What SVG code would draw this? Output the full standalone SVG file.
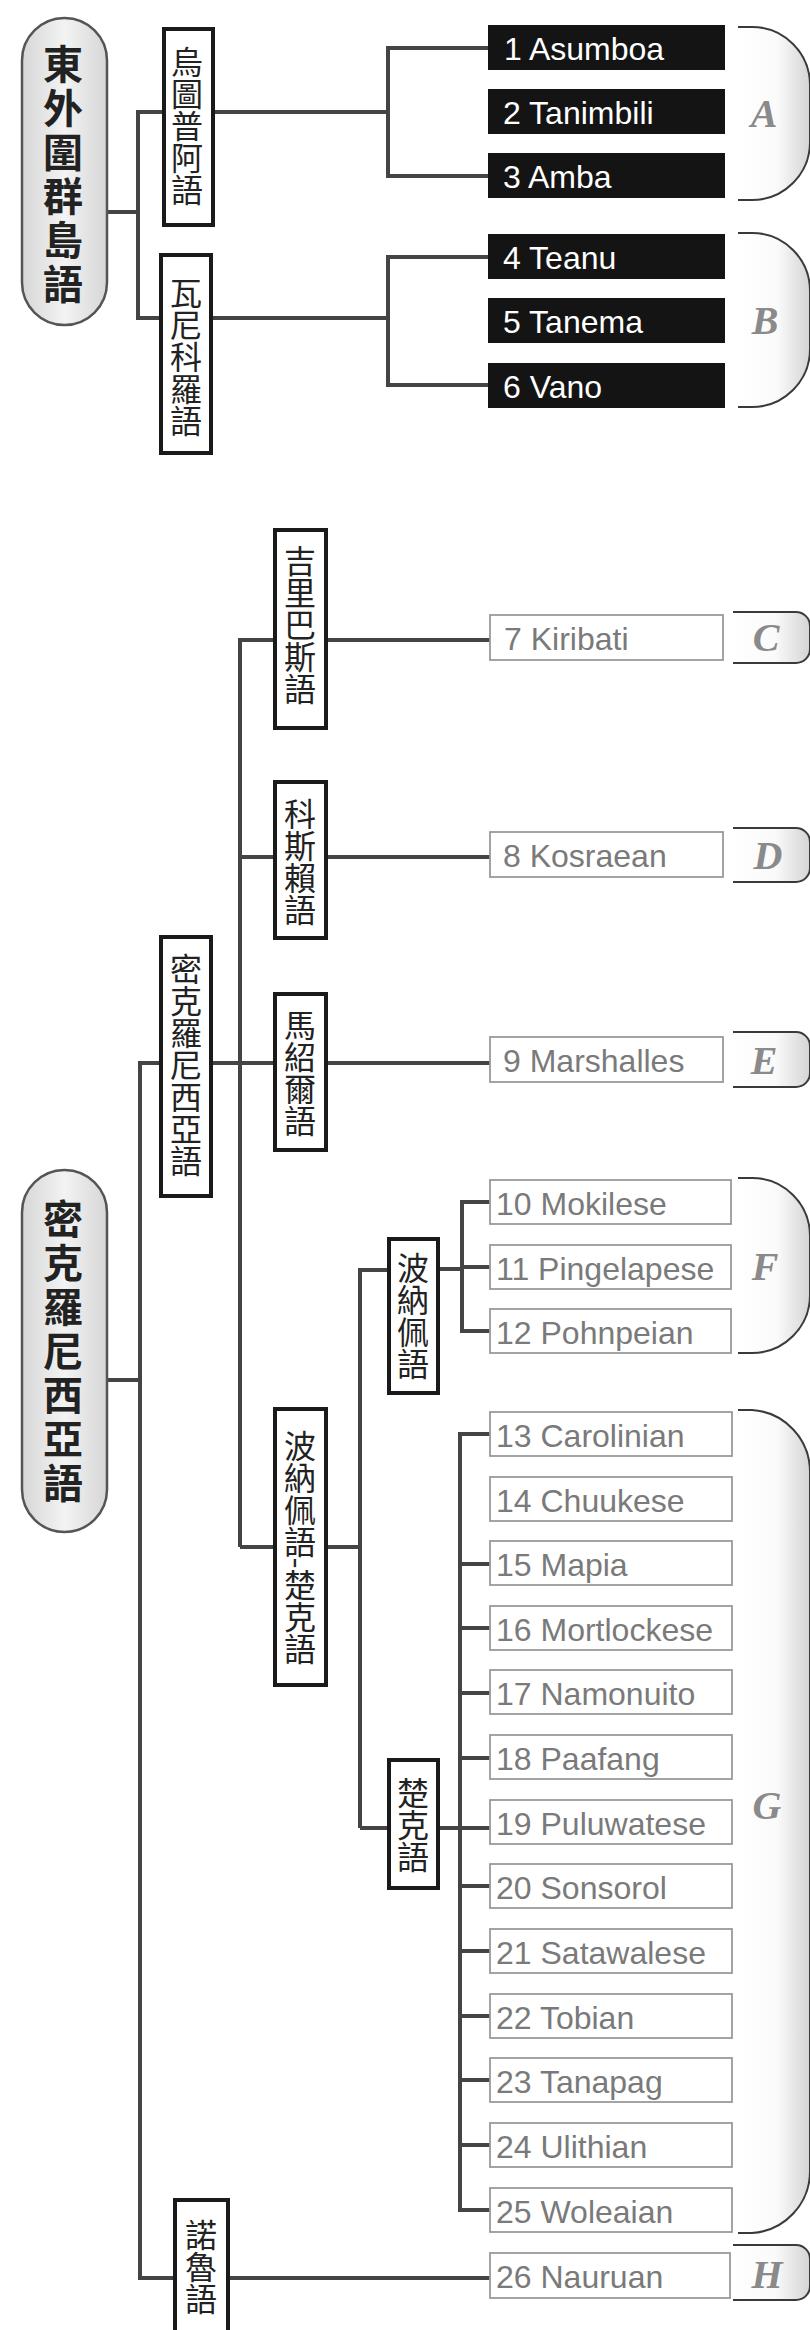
<svg xmlns="http://www.w3.org/2000/svg" width="810" height="2330" viewBox="0 0 810 2330">
<defs>
<linearGradient id="pg" x1="0" y1="0" x2="1" y2="0">
<stop offset="0" stop-color="#d6d6d6"/><stop offset="0.5" stop-color="#f3f3f3"/><stop offset="1" stop-color="#d6d6d6"/>
</linearGradient>
<linearGradient id="bg" x1="0" y1="0" x2="1" y2="0">
<stop offset="0" stop-color="#ffffff"/><stop offset="0.55" stop-color="#fafafa"/><stop offset="1" stop-color="#d4d4d4"/>
</linearGradient>
<style>
.conn{stroke:#444;stroke-width:4;fill:none;stroke-linecap:butt;stroke-linejoin:miter}
.bx{fill:#fff;stroke:#1a1a1a;stroke-width:4}
.vt{font-family:"Noto Sans CJK TC","Noto Sans CJK SC",sans-serif;font-size:32px;fill:#222;writing-mode:vertical-rl;text-anchor:middle}
.pill{fill:url(#pg);stroke:#555;stroke-width:2.5}
.pt{font-family:"Noto Sans CJK TC","Noto Sans CJK SC",sans-serif;font-size:40px;font-weight:bold;fill:#222;writing-mode:vertical-rl;text-anchor:middle;letter-spacing:4px}
.blk{fill:#141414}
.bt{font-family:"Liberation Sans",Arial,sans-serif;font-size:32px;fill:#fff}
.gb{fill:#fff;stroke:#9a9a9a;stroke-width:1.8}
.gt{font-family:"Liberation Sans",Arial,sans-serif;font-size:32px;fill:#7a7a7a}
.br{fill:url(#bg);stroke:#3a3a3a;stroke-width:2}
.bl{font-family:"Liberation Serif","Times New Roman",serif;font-style:italic;font-weight:bold;font-size:40px;fill:#8a8a8a;text-anchor:middle}
</style>
</defs>
<rect width="810" height="2330" fill="#fff"/>

<g id="connectors">
<path class="conn" d="M107,212 H138"/>
<path class="conn" d="M162,112 H138 V318 H159"/>
<path class="conn" d="M215,112 H388"/>
<path class="conn" d="M488,48 H388 V176 H488"/>
<path class="conn" d="M213,318 H388"/>
<path class="conn" d="M488,257 H388 V385 H488"/>
<path class="conn" d="M240,1547 V640 H273"/>
<path class="conn" d="M328,640 H490"/>
<path class="conn" d="M240,857 H273"/>
<path class="conn" d="M328,857 H490"/>
<path class="conn" d="M213,1063 H273"/>
<path class="conn" d="M328,1063 H490"/>
<path class="conn" d="M240,1547 H273"/>
<path class="conn" d="M328,1547 H360"/>
<path class="conn" d="M360,1828 V1270 H387"/>
<path class="conn" d="M440,1269 H462"/>
<path class="conn" d="M490,1202 H462 V1331 H490"/>
<path class="conn" d="M462,1267 H490"/>
<path class="conn" d="M360,1828 H387"/>
<path class="conn" d="M440,1828 H490"/>
<path class="conn" d="M490,1434 H460 V2210 H490"/>
<path class="conn" d="M460,1564 H490 M460,1628 H490 M460,1693 H490 M460,1758 H490 M460,1886 H490 M460,1951 H490 M460,2016 H490 M460,2080 H490 M460,2145 H490"/>
<path class="conn" d="M159,1063 H140 V2278 H173"/>
<path class="conn" d="M107,1380 H140"/>
<path class="conn" d="M230,2278 H490"/>
</g>

<g id="n-east-outer">
<rect class="pill" x="22" y="18" width="85" height="307" rx="42.5"/>
<text class="pt" x="63" y="176">東外圍群島語</text>
</g>
<g id="n-utupua"><rect class="bx" x="164" y="29" width="49" height="196"/><text class="vt" x="187" y="126">烏圖普阿語</text></g>
<g id="n-vanikoro"><rect class="bx" x="161" y="255" width="50" height="198"/><text class="vt" x="186" y="357">瓦尼科羅語</text></g>

<g id="n1"><rect class="blk" x="488" y="25" width="237" height="45"/><text class="bt" x="504" y="60">1 Asumboa</text></g>
<g id="n2"><rect class="blk" x="488" y="89" width="237" height="45"/><text class="bt" x="503" y="124">2 Tanimbili</text></g>
<g id="n3"><rect class="blk" x="488" y="153" width="237" height="45"/><text class="bt" x="503" y="188">3 Amba</text></g>
<g id="n4"><rect class="blk" x="488" y="234" width="237" height="45"/><text class="bt" x="503" y="269">4 Teanu</text></g>
<g id="n5"><rect class="blk" x="488" y="298" width="237" height="45"/><text class="bt" x="503" y="333">5 Tanema</text></g>
<g id="n6"><rect class="blk" x="488" y="363" width="237" height="45"/><text class="bt" x="503" y="398">6 Vano</text></g>

<g id="gA"><path class="br" d="M738,27 H752 A58,58 0 0 1 810,85 V142 A58,58 0 0 1 752,200 H738"/><text class="bl" x="764" y="127">A</text></g>
<g id="gB"><path class="br" d="M738,233 H752 A58,58 0 0 1 810,291 V349 A58,58 0 0 1 752,407 H738"/><text class="bl" x="765" y="334">B</text></g>

<g id="n-kiribati-lang"><rect class="bx" x="275" y="530" width="51" height="198"/><text class="vt" x="300" y="625">吉里巴斯語</text></g>
<g id="n-kosrae-lang"><rect class="bx" x="275" y="782" width="51" height="156"/><text class="vt" x="300" y="862">科斯賴語</text></g>
<g id="n-marshall-lang"><rect class="bx" x="275" y="994" width="51" height="156"/><text class="vt" x="300" y="1073">馬紹爾語</text></g>
<g id="n-micronesian-inner"><rect class="bx" x="161" y="937" width="50" height="259"/><text class="vt" x="186" y="1065">密克羅尼西亞語</text></g>
<g id="n-micronesian"><rect class="pill" x="22" y="1170" width="85" height="362" rx="42.5"/><text class="pt" x="63" y="1353">密克羅尼西亞語</text></g>
<g id="n-pohnpeic-chuukic"><rect class="bx" x="275" y="1409" width="51" height="276"/><text class="vt" x="300" y="1547">波納佩語-楚克語</text></g>
<g id="n-pohnpeic"><rect class="bx" x="389" y="1239" width="49" height="154"/><text class="vt" x="413" y="1316">波納佩語</text></g>
<g id="n-chuukic"><rect class="bx" x="389" y="1760" width="49" height="128"/><text class="vt" x="413" y="1825">楚克語</text></g>
<g id="n-nauruan-lang"><rect class="bx" x="175" y="2200" width="53" height="140"/><text class="vt" x="201" y="2267">諾魯語</text></g>

<g id="n7"><rect class="gb" x="490" y="615" width="233" height="45"/><text class="gt" x="504" y="650">7 Kiribati</text></g>
<g id="n8"><rect class="gb" x="490" y="832" width="233" height="45"/><text class="gt" x="503" y="867">8 Kosraean</text></g>
<g id="n9"><rect class="gb" x="490" y="1037" width="233" height="45"/><text class="gt" x="503" y="1072">9 Marshalles</text></g>
<g id="gC"><path class="br" d="M733,612 H796 A14,14 0 0 1 810,626 V649 A14,14 0 0 1 796,663 H733"/><text class="bl" x="766" y="651">C</text></g>
<g id="gD"><path class="br" d="M733,828 H796 A14,14 0 0 1 810,842 V868 A14,14 0 0 1 796,882 H733"/><text class="bl" x="768" y="869">D</text></g>
<g id="gE"><path class="br" d="M733,1032 H796 A14,14 0 0 1 810,1046 V1073 A14,14 0 0 1 796,1087 H733"/><text class="bl" x="764" y="1074">E</text></g>

<g id="n10"><rect class="gb" x="490" y="1180" width="241" height="44"/><text class="gt" x="496" y="1215">10 Mokilese</text></g>
<g id="n11"><rect class="gb" x="490" y="1245" width="241" height="44"/><text class="gt" x="496" y="1280">11 Pingelapese</text></g>
<g id="n12"><rect class="gb" x="490" y="1309" width="241" height="44"/><text class="gt" x="496" y="1344">12 Pohnpeian</text></g>
<g id="gF"><path class="br" d="M738,1178 H752 A58,58 0 0 1 810,1236 V1295 A58,58 0 0 1 752,1353 H738"/><text class="bl" x="765" y="1280">F</text></g>

<g id="n13"><rect class="gb" x="490" y="1412" width="242" height="44"/><text class="gt" x="496" y="1447">13 Carolinian</text></g>
<g id="n14"><rect class="gb" x="490" y="1477" width="242" height="44"/><text class="gt" x="496" y="1512">14 Chuukese</text></g>
<g id="n15"><rect class="gb" x="490" y="1541" width="242" height="44"/><text class="gt" x="496" y="1576">15 Mapia</text></g>
<g id="n16"><rect class="gb" x="490" y="1606" width="242" height="44"/><text class="gt" x="496" y="1641">16 Mortlockese</text></g>
<g id="n17"><rect class="gb" x="490" y="1670" width="242" height="44"/><text class="gt" x="496" y="1705">17 Namonuito</text></g>
<g id="n18"><rect class="gb" x="490" y="1735" width="242" height="44"/><text class="gt" x="496" y="1770">18 Paafang</text></g>
<g id="n19"><rect class="gb" x="490" y="1800" width="242" height="44"/><text class="gt" x="496" y="1835">19 Puluwatese</text></g>
<g id="n20"><rect class="gb" x="490" y="1864" width="242" height="44"/><text class="gt" x="496" y="1899">20 Sonsorol</text></g>
<g id="n21"><rect class="gb" x="490" y="1929" width="242" height="44"/><text class="gt" x="496" y="1964">21 Satawalese</text></g>
<g id="n22"><rect class="gb" x="490" y="1994" width="242" height="44"/><text class="gt" x="496" y="2029">22 Tobian</text></g>
<g id="n23"><rect class="gb" x="490" y="2058" width="242" height="44"/><text class="gt" x="496" y="2093">23 Tanapag</text></g>
<g id="n24"><rect class="gb" x="490" y="2123" width="242" height="44"/><text class="gt" x="496" y="2158">24 Ulithian</text></g>
<g id="n25"><rect class="gb" x="490" y="2188" width="242" height="44"/><text class="gt" x="496" y="2223">25 Woleaian</text></g>
<g id="gG"><path class="br" d="M738,1410 H752 A62,62 0 0 1 810,1472 V2171 A62,62 0 0 1 752,2233 H738"/><text class="bl" x="767" y="1819">G</text></g>

<g id="n26"><rect class="gb" x="490" y="2253" width="240" height="45"/><text class="gt" x="496" y="2288">26 Nauruan</text></g>
<g id="gH"><path class="br" d="M733,2245 H796 A14,14 0 0 1 810,2259 V2286 A14,14 0 0 1 796,2300 H733"/><text class="bl" x="767" y="2288">H</text></g>
</svg>
